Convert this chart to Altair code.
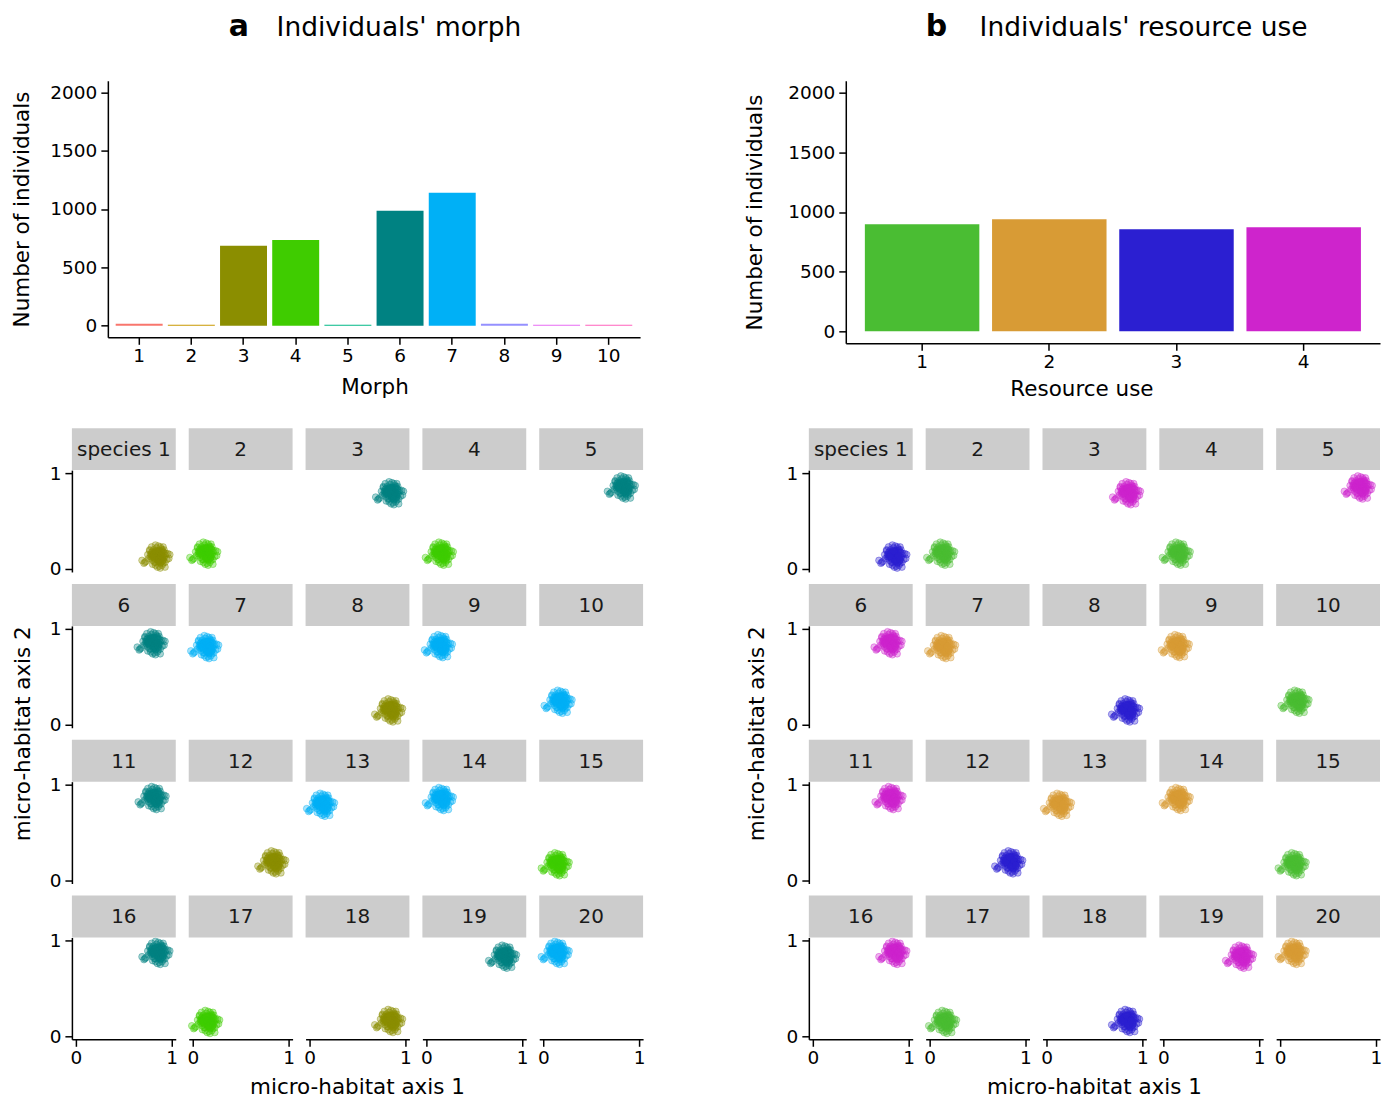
import altair as alt
import pandas as pd

FONT = "DejaVu Sans"

# ---------------- data ----------------
morph_labels = ["1", "2", "3", "4", "5", "6", "7", "8", "9", "10"]
morph_counts = [17, 8, 684, 735, 8, 984, 1139, 17, 8, 8]
morph_colors = ["#F8766D", "#C99800", "#8B8E00", "#3FCC00", "#00B886",
                "#008282", "#00B0F6", "#9590FF", "#E76BF3", "#FF62BC"]

resource_labels = ["1", "2", "3", "4"]
resource_counts = [898, 940, 856, 873]
resource_colors = ["#4ABD33", "#D89B35", "#2B1FD1", "#CE24CC"]

species_labels = ["species 1", "2", "3", "4", "5", "6", "7", "8", "9", "10",
                  "11", "12", "13", "14", "15", "16", "17", "18", "19", "20"]
species_x = [0.85, 0.13, 0.85, 0.15, 0.83, 0.80, 0.14, 0.84, 0.14, 0.17,
             0.81, 0.84, 0.13, 0.15, 0.14, 0.85, 0.15, 0.84, 0.81, 0.14]
species_y = [0.13, 0.16, 0.79, 0.16, 0.85, 0.85, 0.81, 0.15, 0.82, 0.24,
             0.86, 0.19, 0.79, 0.85, 0.17, 0.87, 0.15, 0.16, 0.83, 0.87]
species_morph = [3, 4, 6, 4, 6, 6, 7, 3, 7, 7, 6, 3, 7, 7, 4, 6, 4, 3, 6, 7]
species_resource = [3, 1, 4, 1, 4, 4, 2, 3, 2, 1, 4, 3, 2, 2, 1, 4, 1, 3, 4, 2]

# spread of individuals around each species' centre (hand-read cloud shape)
offset_dx = [0.00, 0.04, -0.03, 0.06, -0.05, 0.01, -0.02, 0.05, -0.06, 0.03,
             0.07, -0.04, 0.00, 0.04, -0.07, 0.05, -0.02, 0.02, 0.09, -0.05,
             0.03, -0.09, 0.06, -0.01, 0.04, -0.03, 0.01, 0.08, -0.06, 0.02,
             0.10, -0.10, 0.05, -0.03, 0.02, -0.05, 0.06, -0.08, 0.00, 0.04,
             -0.01, 0.08, -0.04, 0.01, -0.12, 0.11, 0.03, -0.06, 0.05, -0.02,
             0.07, -0.08, 0.00, 0.03, -0.05, 0.12, -0.14, 0.06, -0.01, 0.02,
             0.01, -0.02, 0.03, -0.04, 0.02, 0.00, -0.01, 0.05, -0.03, 0.04,
             -0.06, 0.06, 0.01, -0.02, 0.03, -0.07, 0.07, -0.04, 0.02, -0.03,
             0.00, 0.04, -0.05, 0.01, 0.06, -0.01, -0.16, -0.13, 0.13, 0.08]
offset_dy = [0.01, -0.03, 0.05, 0.00, -0.04, 0.06, -0.06, 0.04, 0.02, -0.07,
             -0.01, 0.07, -0.02, 0.08, 0.00, -0.05, -0.09, 0.03, 0.03, 0.05,
             0.10, -0.02, -0.07, 0.00, 0.06, -0.06, 0.11, 0.01, -0.01, -0.10,
             -0.03, 0.02, 0.07, 0.04, -0.05, -0.08, 0.05, 0.06, -0.11, -0.01,
             0.09, -0.06, 0.01, -0.03, -0.05, 0.03, -0.12, 0.10, -0.09, 0.12,
             0.07, 0.07, 0.05, 0.00, 0.00, -0.02, -0.07, 0.10, 0.02, 0.06,
             0.00, 0.02, -0.01, 0.01, 0.03, -0.03, 0.02, -0.02, -0.02, 0.01,
             0.04, -0.04, -0.04, 0.04, -0.06, 0.02, 0.04, 0.03, -0.03, -0.01,
             0.05, 0.01, 0.00, -0.05, -0.03, 0.06, -0.04, -0.06, 0.02, -0.11]

Y_TICKS = [0, 500, 1000, 1500, 2000]


# ---------------- helpers ----------------
def bar_chart(field, labels, counts, colors, xtitle, letter, title, inset, w, h,
              letter_x, title_x, title_y, ytitle_pad, x_label_pad, x_title_pad, x_title_x):
    df = pd.DataFrame({field: labels, "n": counts})
    bars = alt.Chart(df).mark_bar().encode(
        x=alt.X(f"{field}:N", sort=labels,
                scale=alt.Scale(range=[inset, inset + w], paddingInner=0.1, paddingOuter=0.15),
                axis=alt.Axis(title=xtitle, labelAngle=0, labelPadding=x_label_pad,
                              titlePadding=x_title_pad, titleX=x_title_x)),
        y=alt.Y("n:Q", scale=alt.Scale(domain=[-100, 2100], nice=False, zero=False),
                axis=alt.Axis(values=Y_TICKS, format="d", title="Number of individuals",
                              titlePadding=ytitle_pad, offset=-inset)),
        color=alt.Color(f"{field}:N", sort=labels,
                        scale=alt.Scale(domain=labels, range=colors), legend=None),
    )
    let = alt.Chart(pd.DataFrame({"t": [letter]})).mark_text(
        font=FONT, fontSize=30, fontWeight="bold", align="left",
        baseline="alphabetic", color="black"
    ).encode(text="t:N", x=alt.value(inset + letter_x), y=alt.value(title_y))
    tit = alt.Chart(pd.DataFrame({"t": [title]})).mark_text(
        font=FONT, fontSize=26.5, align="left", baseline="alphabetic", color="black"
    ).encode(text="t:N", x=alt.value(inset + title_x), y=alt.value(title_y))
    return alt.layer(bars, let, tit).properties(width=inset + w, height=h)


def facet_df(field, cats):
    rows = []
    for i in range(len(species_labels)):
        r, c = i // 5, i % 5
        for dx, dy in zip(offset_dx, offset_dy):
            rows.append({"kind": "pt", "r": r, "c": c, "x": species_x[i] + dx,
                         "y": species_y[i] + dy, field: str(cats[i]), "label": ""})
        rows.append({"kind": "strip", "r": r, "c": c, "x": 0.5, "y": 0.5,
                     field: str(cats[i]), "label": species_labels[i]})
    return pd.DataFrame(rows)


def header(title, orient, pad):
    return alt.Header(labels=False, title=title, titleOrient=orient, titleFont=FONT,
                      titleFontSize=21.5, titleFontWeight="normal", titleColor="black",
                      titlePadding=pad)


def facet_chart(field, cats, domain, colors, ytitle_pad, xtitle_pad):
    df = facet_df(field, cats)
    base = alt.Chart()
    pts = base.mark_circle(size=45, fillOpacity=0.34, strokeOpacity=0.5,
                           strokeWidth=0.8).transform_filter(
        alt.datum.kind == "pt"
    ).encode(
        x=alt.X("x:Q", scale=alt.Scale(domain=[-0.042, 1.042], nice=False, zero=False),
                axis=alt.Axis(values=[0, 1], format="d", title=None, labelPadding=2)),
        y=alt.Y("y:Q", scale=alt.Scale(domain=[-0.031, 1.031], nice=False, zero=False),
                axis=alt.Axis(values=[0, 1], format="d", title=None)),
        color=alt.Color(f"{field}:N", scale=alt.Scale(domain=domain, range=colors), legend=None),
        stroke=alt.Stroke(f"{field}:N", scale=alt.Scale(domain=domain, range=colors), legend=None),
    )
    strip = base.mark_rect(color="#CCCCCC").transform_filter(
        alt.datum.kind == "strip"
    ).encode(x=alt.value(0), x2=alt.value(104), y=alt.value(-42), y2=alt.value(0))
    txt = base.mark_text(font=FONT, fontSize=20, color="#1A1A1A",
                         baseline="middle", align="center").transform_filter(
        alt.datum.kind == "strip"
    ).encode(x=alt.value(52), y=alt.value(-20), text="label:N")
    return alt.layer(pts, strip, txt, data=df).properties(width=104, height=102).facet(
        row=alt.Row("r:O", header=header("micro-habitat axis 2", "left", ytitle_pad)),
        column=alt.Column("c:O", header=header("micro-habitat axis 1", "bottom", xtitle_pad)),
        spacing={"row": 54, "column": 13},
        bounds="flush",
    )


# ---------------- charts ----------------
bar_a = bar_chart("morph", morph_labels, morph_counts, morph_colors, "Morph", "a",
                  "Individuals' morph", 36, 533, 257, 121, 169, -45, 16, 2, 12, 303)
bar_b = bar_chart("resource", resource_labels, resource_counts, resource_colors,
                  "Resource use", "b", "Individuals' resource use", 37, 535, 263,
                  80, 134, -45, 21, 2, 8, 273)

fac_a = facet_chart("morph", species_morph, morph_labels, morph_colors, 4, 0)
fac_b = facet_chart("resource", species_resource, resource_labels, resource_colors, 7, 0)

left = alt.vconcat(bar_a, fac_a, spacing=30)
right = alt.vconcat(bar_b, fac_b, spacing=28)

chart = alt.hconcat(left, right, spacing=99).resolve_scale(
    color="independent", stroke="independent"
).properties(
    padding={"left": 3, "top": 3, "right": 2, "bottom": 2}
).configure_view(stroke=None).configure_axis(
    domainColor="black", tickColor="black", labelColor="black", titleColor="black",
    grid=False, labelFont=FONT, titleFont=FONT, labelFontSize=18.5, titleFontSize=21.5,
    titleFontWeight="normal", tickSize=7, domainWidth=1.5, tickWidth=1.5, labelPadding=4,
).configure_text(font=FONT)

chart.save("out.html", embed_options={"renderer": "svg", "actions": False})
